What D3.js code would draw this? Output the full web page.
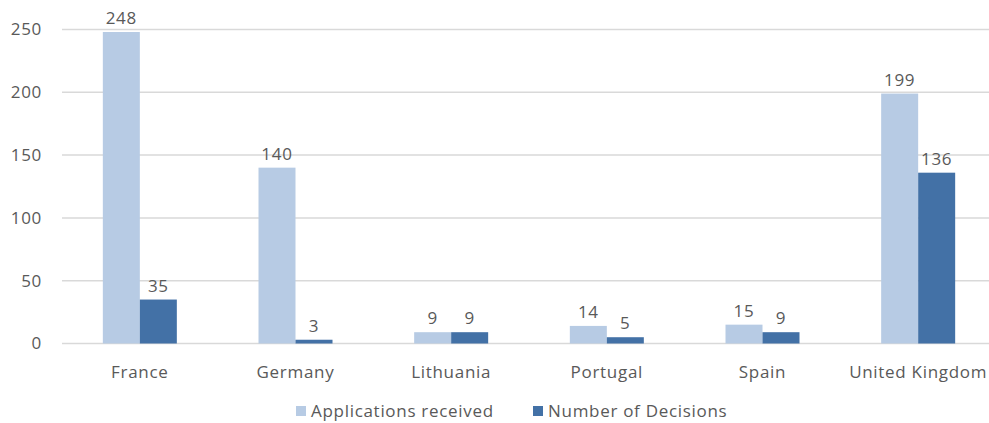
<!DOCTYPE html>
<html>
<head>
<meta charset="utf-8">
<script src="https://cdn.jsdelivr.net/npm/d3@7"></script>
<style>
  body { margin: 0; background: #fff; }
  text { font-family: "Open Sans", sans-serif; fill: #595959; font-size: 17px; letter-spacing: 0.7px; }
</style>
</head>
<body>
<div id="chart"></div>
<script>
const chartWidth = 989;
const chartHeight = 423;

const countries = ["France", "Germany", "Lithuania", "Portugal", "Spain", "United Kingdom"];
const applications = [248, 140, 9, 14, 15, 199];
const decisions = [35, 3, 9, 5, 9, 136];
const seriesNames = ["Applications received", "Number of Decisions"];
const colours = ["#b7cbe4", "#4371a6"];
const yTicks = [0, 50, 100, 150, 200, 250];

const svg = d3.select('#chart').append('svg')
    .attr('width', chartWidth)
    .attr('height', chartHeight);

const x = d3.scaleBand()
    .domain(countries)
    .range([62, 996])
    .paddingInner(0)
    .paddingOuter(0);

const y = d3.scaleLinear()
    .domain([0, 250])
    .range([343.5, 29.5]);

const barWidth = 37;

// gridlines
svg.selectAll('.grid')
    .data(yTicks)
    .enter()
    .append('line')
    .attr('x1', 62)
    .attr('x2', chartWidth)
    .attr('y1', d => y(d))
    .attr('y2', d => y(d))
    .attr('stroke', '#d9d9d9')
    .attr('stroke-width', 1.5);

// y labels
svg.selectAll('.ylab')
    .data(yTicks)
    .enter()
    .append('text')
    .attr('x', 42)
    .attr('y', d => y(d))
    .attr('dy', '0.35em')
    .attr('text-anchor', 'end')
    .text(d => d);

const series = [applications, decisions];

series.forEach(function (vals, si) {
    const g = svg.append('g');
    const data = countries.map((c, i) => ({ c: c, v: vals[i] }));
    g.selectAll('rect')
        .data(data)
        .enter()
        .append('rect')
        .attr('x', d => x(d.c) + x.bandwidth() / 2 - barWidth + si * barWidth)
        .attr('width', barWidth)
        .attr('y', d => y(d.v))
        .attr('height', d => y(0) - y(d.v))
        .attr('fill', colours[si]);

    g.selectAll('text')
        .data(data)
        .enter()
        .append('text')
        .attr('x', d => x(d.c) + x.bandwidth() / 2 - barWidth / 2 + si * barWidth)
        .attr('y', d => y(d.v) - 8)
        .attr('text-anchor', 'middle')
        .text(d => d.v);
});

// category labels
svg.selectAll('.xlab')
    .data(countries)
    .enter()
    .append('text')
    .attr('x', d => x(d) + x.bandwidth() / 2)
    .attr('y', 378)
    .attr('text-anchor', 'middle')
    .text(d => d);

// legend
const legendX = [296, 533];
seriesNames.forEach(function (name, i) {
    svg.append('rect')
        .attr('x', legendX[i])
        .attr('y', 406)
        .attr('width', 10)
        .attr('height', 10)
        .attr('fill', colours[i]);
    svg.append('text')
        .attr('x', legendX[i] + 15)
        .attr('y', 417)
        .text(name);
});
</script>
</body>
</html>
